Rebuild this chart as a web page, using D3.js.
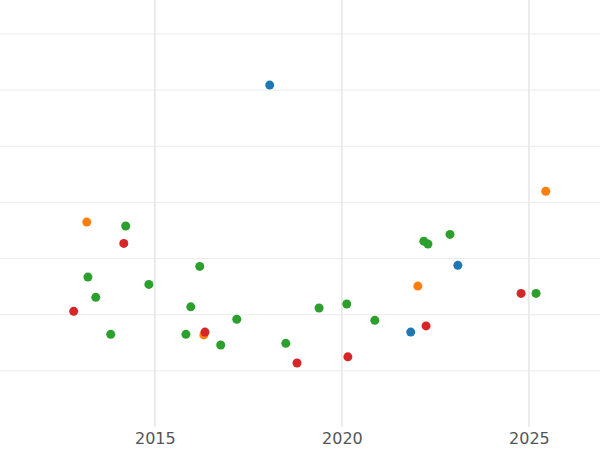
<!DOCTYPE html>
<html><head><meta charset="utf-8">
<script src="https://cdn.jsdelivr.net/npm/d3@7"></script>
<style>body{margin:0;background:#fff}</style>
</head><body>
<script>
const blueX = [2018.07, 2023.10, 2021.84];
const blueY = [6.09, 2.88, 1.69];
const orangeX = [2013.18, 2025.45, 2022.03, 2016.31];
const orangeY = [3.65, 4.20, 2.51, 1.64];
const redX = [2012.83, 2014.17, 2016.34, 2018.80, 2020.16, 2022.25, 2024.79];
const redY = [2.06, 3.27, 1.69, 1.14, 1.25, 1.80, 2.38];
const greenX = [2014.22, 2013.21, 2013.42, 2014.84, 2013.82, 2016.20, 2015.96, 2015.83, 2017.19,
  2016.76, 2018.50, 2019.39, 2020.13, 2020.88, 2022.19, 2022.30, 2022.89, 2025.19];
const greenY = [3.58, 2.67, 2.31, 2.54, 1.65, 2.86, 2.14, 1.65, 1.92,
  1.46, 1.49, 2.12, 2.19, 1.90, 3.31, 3.26, 3.43, 2.38];
const xTicks = [2015, 2020, 2025];
const yGrid = [1, 2, 3, 4, 5, 6, 7];

const w = 600, h = 450;
const x = d3.scaleLinear().domain([2010.86, 2026.9]).range([0, 600]);
const y = d3.scaleLinear().domain([0, 7]).range([427, 34]);

const svg = d3.select('body').append('svg').attr('width', w).attr('height', h);

svg.selectAll('.hg').data(yGrid).enter().append('line')
  .attr('x1', 0).attr('x2', w)
  .attr('y1', d => y(d)).attr('y2', d => y(d))
  .attr('stroke', '#ebebeb').attr('stroke-width', 1);

svg.selectAll('.vg').data(xTicks).enter().append('line')
  .attr('x1', d => x(d)).attr('x2', d => x(d))
  .attr('y1', 0).attr('y2', 427)
  .attr('stroke', '#e6e6e6').attr('stroke-width', 1.5);

const xAxis = d3.axisBottom(x).tickValues(xTicks).tickFormat(d3.format('d')).tickSize(0).tickPadding(6);
const g = svg.append('g').attr('transform', 'translate(0,427)').call(xAxis);
g.select('.domain').remove();
g.selectAll('text').attr('font-family', 'DejaVu Sans').attr('font-size', 16).attr('fill', '#555');

const series = [
  [blueX, blueY, '#1f77b4'],
  [orangeX, orangeY, '#ff7f0e'],
  [redX, redY, '#d62728'],
  [greenX, greenY, '#2ca02c'],
];
series.forEach(([xs, ys, c]) => {
  svg.append('g').selectAll('circle').data(xs).enter().append('circle')
    .attr('cx', d => x(d)).attr('cy', (d, i) => y(ys[i]))
    .attr('r', 4.5).attr('fill', c);
});
</script>
</body></html>
